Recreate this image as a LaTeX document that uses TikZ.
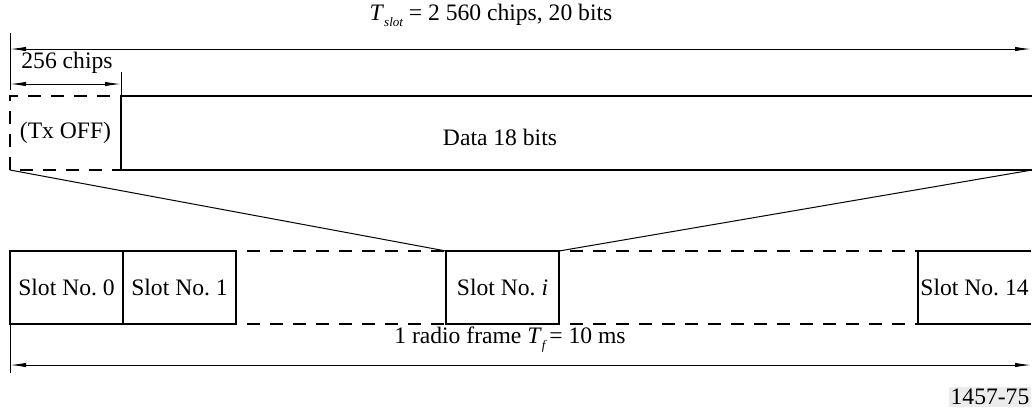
\documentclass[tikz,border=0pt]{standalone}
\usepackage{fontspec}
\setmainfont{Liberation Serif}
\usetikzlibrary{arrows.meta, positioning}

\newcommand{\lowsub}[1]{\raisebox{-0.55ex}{\fontsize{6.5}{7}\selectfont\itshape #1}}

\begin{document}
\begin{tikzpicture}[
    x=0.5pt, y=-0.5pt,
    font=\fontsize{11.8}{14}\selectfont,
    slot/.style={draw, line width=1pt, minimum width=56.5pt, minimum height=36.5pt,
                 inner sep=0pt, outer sep=0pt},
    field/.style={minimum height=37pt, inner sep=0pt, outer sep=0pt, anchor=north west},
    boxline/.style={line width=1pt},
    gap/.style={line width=1pt, dash pattern=on 6.5pt off 5pt, dash phase=6pt},
    dim/.style={{Latex[length=8pt, width=2.2pt]}-{Latex[length=8pt, width=2.2pt]}, line width=0.5pt},
    tick/.style={line width=0.5pt}
]
    \useasboundingbox (0,0) rectangle (1032,409);

    % slot structure
    \node (tslot) at (491,15) {\textit{T}\lowsub{slot} = 2 560 chips, 20 bits};
    \coordinate (slotL) at (10,49);
    \coordinate (slotR) at (1031,49);
    \coordinate (tickA) at (10,33);
    \coordinate (tickB) at (10,90);
    \draw[tick] (tickA) -- (tickB);
    \draw[dim] (slotL) -- (slotR);

    \node[field, minimum width=55.5pt] (off) at (10,96) {(Tx OFF)};
    \node[field, minimum width=455.5pt] (data) at (121,96) {};
    \node (datatxt) at (500,137) {Data 18 bits};

    \node (chips) at (67,63) {256 chips};
    \coordinate (offL) at (10,84);
    \coordinate (offR) at (121,84);
    \coordinate (tickC) at (121,72);
    \draw[tick] (tickC) -- (data.north west);
    \draw[dim] (offL) -- (offR);

    \draw[boxline] (data.north east) -- (data.north west) -- (data.south west) -- (data.south east);
    \draw[gap] (data.north west) -- (off.north west) -- (off.south west) -- (data.south west);

    % radio frame
    \node[slot, anchor=north west] (s0) at (10,251) {Slot No.~0};
    \node[slot, right=0pt of s0] (s1) {Slot No.~1};
    \node[slot, anchor=north west] (si) at (446,251) {Slot No.~\textit{i}};
    \node[slot, draw=none, anchor=north west] (s14) at (918,251) {Slot No.~14};
    \draw[boxline] (s14.north east) -- (s14.north west) -- (s14.south west) -- (s14.south east);

    \draw[gap] (s1.north east) -- (si.north west);
    \draw[gap] (s1.south east) -- (si.south west);
    \draw[gap] (si.north east) -- (s14.north west);
    \draw[gap] (si.south east) -- (s14.south west);

    \draw[tick] (off.south west) -- (si.north west);
    \draw[tick] (data.south east) -- (si.north east);

    \node (tf) at (510,340) {1 radio frame \textit{T}\lowsub{f}\,= 10 ms};
    \coordinate (frameL) at (10,365);
    \coordinate (frameR) at (1031,365);
    \coordinate (tickD) at (10,373);
    \draw[tick] (s0.south west) -- (tickD);
    \draw[dim] (frameL) -- (frameR);

    \node[fill=gray!15, inner sep=1pt] (fig) at (990,397) {1457-75};
\end{tikzpicture}
\end{document}
